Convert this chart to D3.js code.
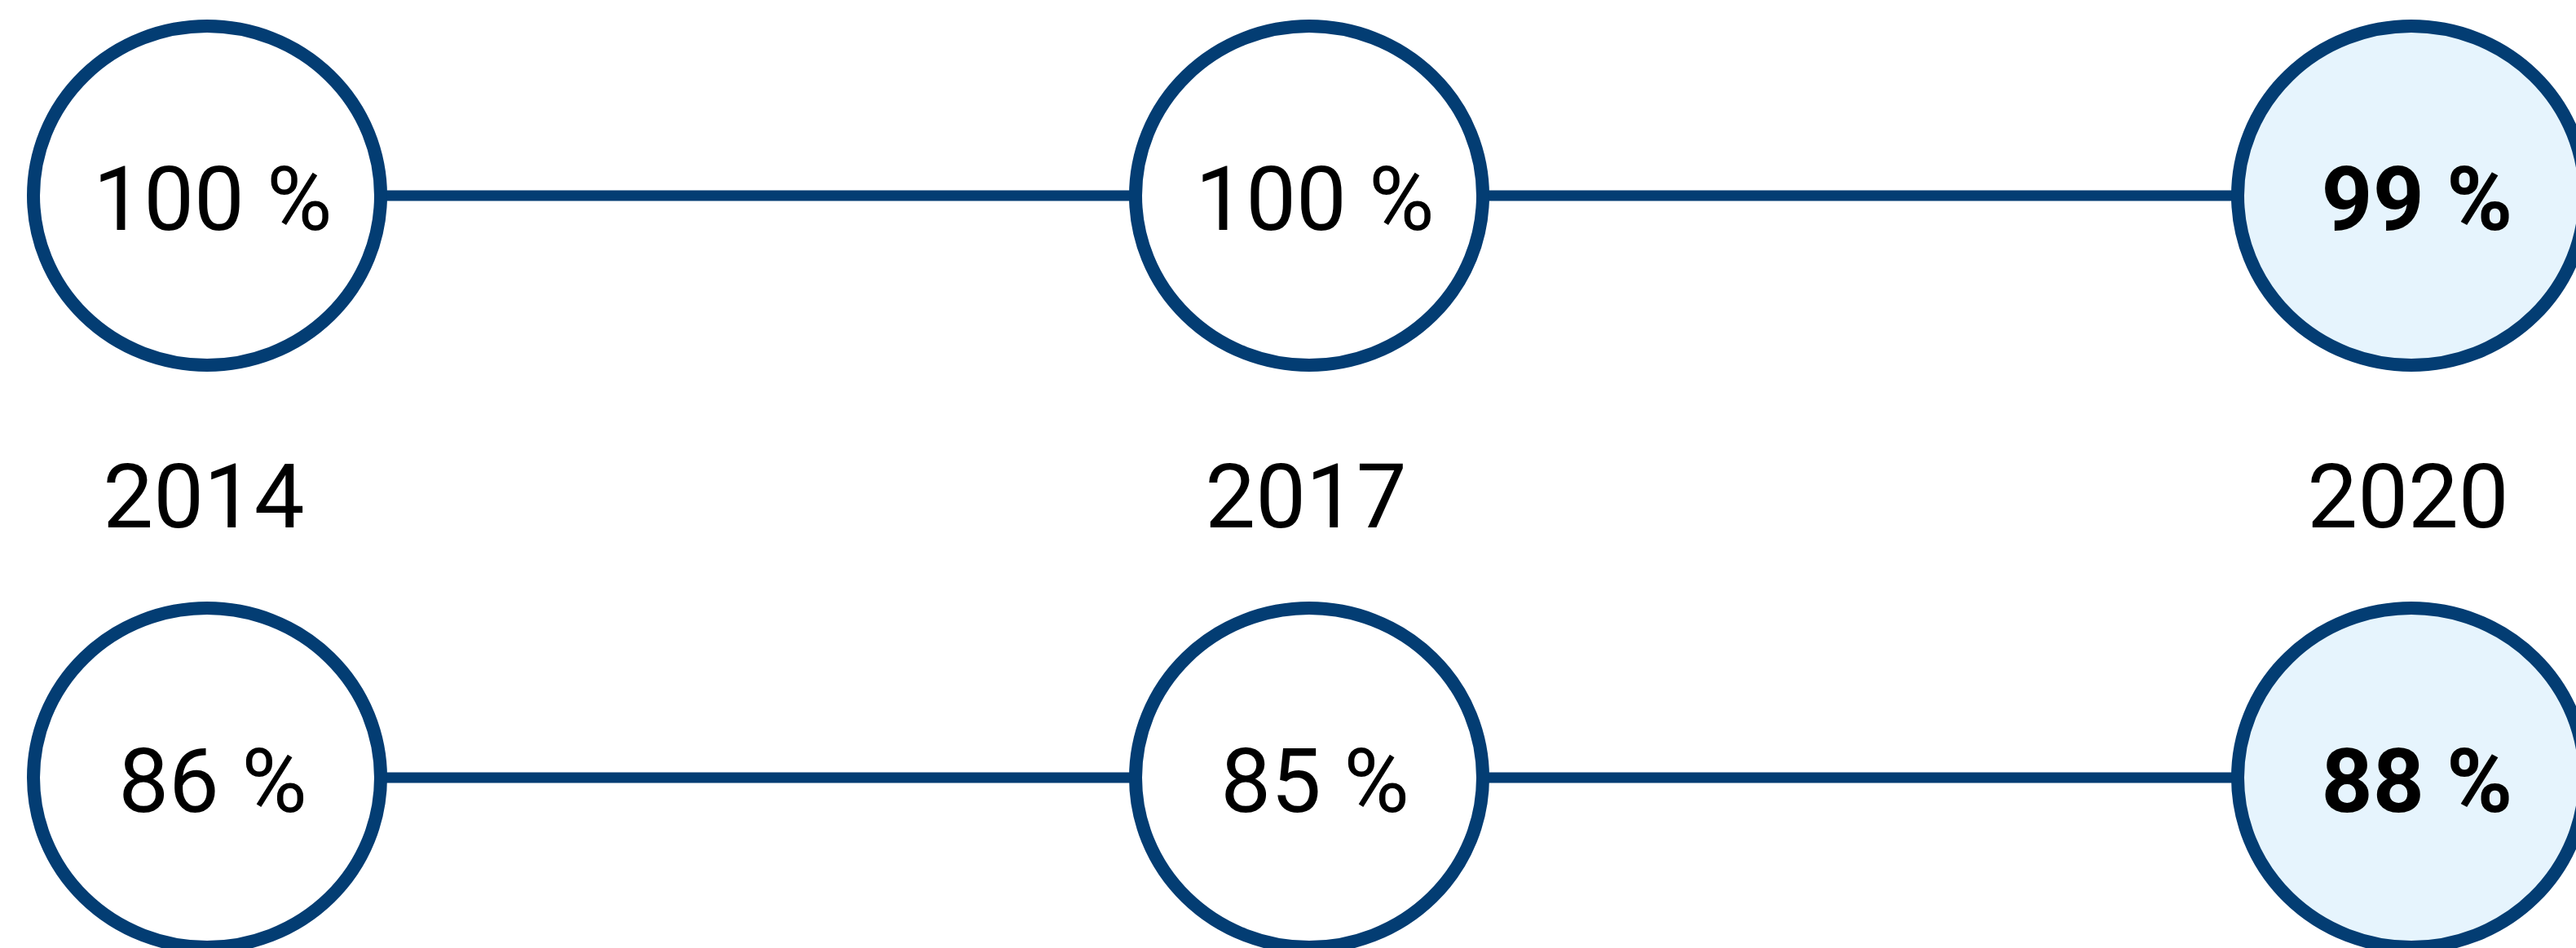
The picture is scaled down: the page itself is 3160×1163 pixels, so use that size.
<!DOCTYPE html>
<html>
<head>
<meta charset="utf-8">
<script src="https://cdn.jsdelivr.net/npm/d3@7"></script>
<style>
  html, body { margin: 0; padding: 0; background: #ffffff; overflow: hidden; }
  svg { display: block; }
</style>
</head>
<body>
<svg id="chart" width="3160" height="1163"></svg>
<script>
// ---- data ----
const years = ["2014", "2017", "2020"];
const rows = ["top", "bottom"];
const topValues = [100, 100, 99];
const bottomValues = [86, 85, 88];
const highlightYear = "2020";

// ---- styles ----
const W = 3160, H = 1163;
const strokeColor = "#033d73";
const highlightFill = "#e6f4fd";
const fontFamily = "Roboto, 'Noto Sans', sans-serif";
const fontSize = 110;

const svg = d3.select("#chart");

const x = d3.scalePoint().domain(years).range([254, 2958]);
const y = d3.scalePoint().domain(rows).range([240, 954]);

const seriesList = [
  { row: "top", values: topValues },
  { row: "bottom", values: bottomValues }
];

const rx = 213, ry = 208;

seriesList.forEach(s => {
  const pts = years.map((yr, i) => ({ year: yr, value: s.values[i], row: s.row }));
  const g = svg.append("g");

  g.append("path")
    .datum(pts)
    .attr("fill", "none")
    .attr("stroke", strokeColor)
    .attr("stroke-width", 13)
    .attr("d", d3.line().x(d => x(d.year)).y(d => y(d.row)));

  const node = g.selectAll("g.node").data(pts).join("g")
    .attr("class", "node")
    .attr("transform", d => `translate(${x(d.year)},${y(d.row)})`);

  node.append("ellipse")
    .attr("rx", rx).attr("ry", ry)
    .attr("fill", d => d.year === highlightYear ? highlightFill : "#ffffff")
    .attr("stroke", strokeColor)
    .attr("stroke-width", 16);

  node.append("text")
    .attr("x", 7)
    .attr("dy", "0.38em")
    .attr("text-anchor", "middle")
    .attr("font-family", fontFamily)
    .attr("font-size", fontSize)
    .attr("font-weight", d => d.year === highlightYear ? 700 : 400)
    .attr("fill", "#000")
    .text(d => `${d.value} %`);
});

// year labels between the rows
const midY = (y("top") + y("bottom")) / 2;
svg.append("g").selectAll("text").data(years).join("text")
  .attr("x", d => x(d) - 4)
  .attr("y", midY)
  .attr("dy", "0.45em")
  .attr("text-anchor", "middle")
  .attr("font-family", fontFamily)
  .attr("font-size", fontSize)
  .attr("fill", "#000")
  .text(d => d);
</script>
</body>
</html>
